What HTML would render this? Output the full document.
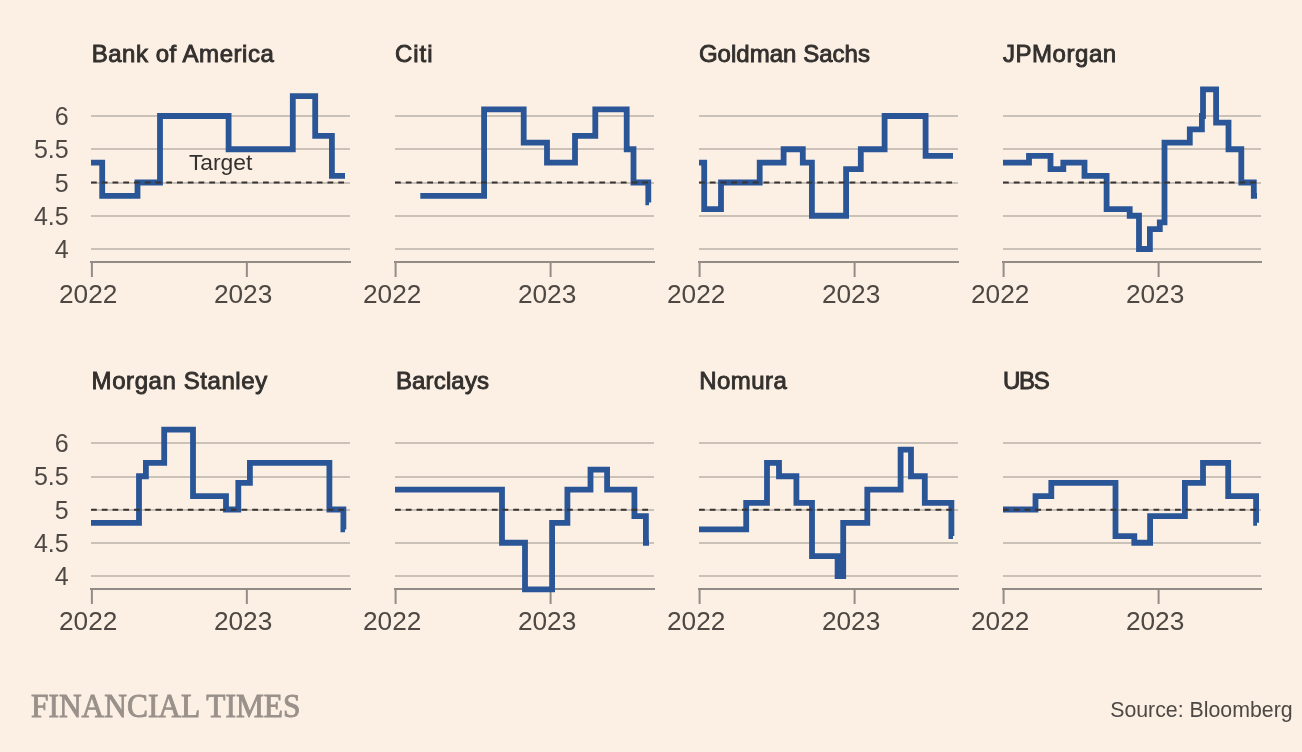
<!DOCTYPE html>
<html><head><meta charset="utf-8"><title>Bank rate forecasts</title>
<style>
html,body{margin:0;padding:0;background:#FCF0E5;}
body{width:1302px;height:752px;overflow:hidden;position:relative;}
svg{position:absolute;left:0;top:0;display:block;will-change:transform;}
.t{font-family:"Liberation Sans",Arial,sans-serif;font-size:24px;fill:#33302E;stroke:#33302E;stroke-width:0.9px;}
.yl{font-family:"Liberation Sans",Arial,sans-serif;font-size:25px;fill:#4D4844;text-anchor:end;}
.xl{font-family:"Liberation Sans",Arial,sans-serif;font-size:25px;fill:#4D4844;}
.gr{fill:#CAC1B8;}
.axr{fill:#938C86;}
.ax{stroke:#938C86;stroke-width:1.8;fill:none;}
.tk{stroke:#938C86;stroke-width:2;fill:none;}
.d{stroke:#383431;stroke-width:2;stroke-dasharray:5.8 4.95;fill:none;}
.ln{stroke:#2A5597;stroke-width:5.8;fill:none;stroke-linejoin:miter;stroke-linecap:butt;}
.tg{font-family:"Liberation Sans",Arial,sans-serif;font-size:22.5px;fill:#33302E;}
.src{font-family:"Liberation Sans",Arial,sans-serif;font-size:21.5px;fill:#4D4844;}
.ft{font-family:"Liberation Serif","Times New Roman",serif;font-size:33px;fill:#99918A;stroke:#99918A;stroke-width:0.9px;}
</style></head><body>
<svg width="1302" height="752" viewBox="0 0 1302 752">
<g><text class="t" x="91.7" y="62" textLength="182.05" lengthAdjust="spacing">Bank of America</text><rect class="gr" x="91" y="115" width="259" height="2"/><rect class="gr" x="91" y="148" width="259" height="2"/><rect class="gr" x="91" y="182" width="259" height="2"/><rect class="gr" x="91" y="215" width="259" height="2"/><rect class="gr" x="91" y="248" width="259" height="2"/><rect class="axr" x="90" y="261" width="261" height="2"/><line class="tk" x1="91.9" x2="91.9" y1="262" y2="277"/><line class="tk" x1="246.85" x2="246.85" y1="262" y2="277"/><text class="xl" x="59" y="303" textLength="58.4" lengthAdjust="spacingAndGlyphs">2022</text><text class="xl" x="213.9" y="303" textLength="58.4" lengthAdjust="spacingAndGlyphs">2023</text><path class="ln" d="M91 162.55H102.2V195.8H137.5V182.5H160V116H228.6V149.25H292.8V96.05H315.2V135.95H331.9V175.85H345"/><line class="d" x1="91" x2="349" y1="182.5" y2="182.5"/><text class="yl" x="68.7" y="125.2">6</text><text class="yl" x="68.7" y="158.45">5.5</text><text class="yl" x="68.7" y="191.7">5</text><text class="yl" x="68.7" y="224.95">4.5</text><text class="yl" x="68.7" y="258.2">4</text></g>
<g><text class="t" x="394.9" y="62" textLength="37.57" lengthAdjust="spacing">Citi</text><rect class="gr" x="395" y="115" width="259" height="2"/><rect class="gr" x="395" y="148" width="259" height="2"/><rect class="gr" x="395" y="182" width="259" height="2"/><rect class="gr" x="395" y="215" width="259" height="2"/><rect class="gr" x="395" y="248" width="259" height="2"/><rect class="axr" x="394" y="261" width="261" height="2"/><line class="tk" x1="395.6" x2="395.6" y1="262" y2="277"/><line class="tk" x1="550.6" x2="550.6" y1="262" y2="277"/><text class="xl" x="363" y="303" textLength="58.4" lengthAdjust="spacingAndGlyphs">2022</text><text class="xl" x="517.9" y="303" textLength="58.4" lengthAdjust="spacingAndGlyphs">2023</text><path class="ln" d="M420.3 195.8H484.1V109.35H523.7V142.6H547V162.55H575V135.95H595.3V109.35H626.7V149.25H633.5V182.5H648.3V202.45H649"/><line class="d" x1="395" x2="653" y1="182.5" y2="182.5"/></g>
<g><text class="t" x="698.9" y="62" textLength="171.07" lengthAdjust="spacing">Goldman Sachs</text><rect class="gr" x="699" y="115" width="259" height="2"/><rect class="gr" x="699" y="148" width="259" height="2"/><rect class="gr" x="699" y="182" width="259" height="2"/><rect class="gr" x="699" y="215" width="259" height="2"/><rect class="gr" x="699" y="248" width="259" height="2"/><rect class="axr" x="698" y="261" width="261" height="2"/><line class="tk" x1="699.6" x2="699.6" y1="262" y2="277"/><line class="tk" x1="854.6" x2="854.6" y1="262" y2="277"/><text class="xl" x="667" y="303" textLength="58.4" lengthAdjust="spacingAndGlyphs">2022</text><text class="xl" x="821.9" y="303" textLength="58.4" lengthAdjust="spacingAndGlyphs">2023</text><path class="ln" d="M699 162.55H704.2V209.1H721V182.5H759.7V162.55H783.6V149.25H802.8V162.55H811.9V215.75H846.1V169.2H860.8V149.25H884.6V116H925.6V155.9H953"/><line class="d" x1="699" x2="957" y1="182.5" y2="182.5"/></g>
<g><text class="t" x="1003" y="62" textLength="113.19" lengthAdjust="spacing">JPMorgan</text><rect class="gr" x="1003" y="115" width="258" height="2"/><rect class="gr" x="1003" y="148" width="258" height="2"/><rect class="gr" x="1003" y="182" width="258" height="2"/><rect class="gr" x="1003" y="215" width="258" height="2"/><rect class="gr" x="1003" y="248" width="258" height="2"/><rect class="axr" x="1002" y="261" width="260" height="2"/><line class="tk" x1="1003.6" x2="1003.6" y1="262" y2="277"/><line class="tk" x1="1158.6" x2="1158.6" y1="262" y2="277"/><text class="xl" x="971" y="303" textLength="58.4" lengthAdjust="spacingAndGlyphs">2022</text><text class="xl" x="1125.9" y="303" textLength="58.4" lengthAdjust="spacingAndGlyphs">2023</text><path class="ln" d="M1003 162.55H1029V155.9H1050.5V169.2H1063.3V162.55H1084.5V175.85H1106.6V209.1H1129.7V215.75H1139V249H1149.9V229.05H1159.8V222.4H1164.5V142.6H1189.8V129.3H1201.9V116H1203V89.4H1216.1V122.65H1228.5V149.25H1241.3V182.5H1253.8V195.8H1257"/><line class="d" x1="1003" x2="1260" y1="182.5" y2="182.5"/></g>
<g><text class="t" x="91.6" y="389" textLength="175.59" lengthAdjust="spacing">Morgan Stanley</text><rect class="gr" x="91" y="442" width="259" height="2"/><rect class="gr" x="91" y="476" width="259" height="2"/><rect class="gr" x="91" y="509" width="259" height="2"/><rect class="gr" x="91" y="542" width="259" height="2"/><rect class="gr" x="91" y="575" width="259" height="2"/><rect class="axr" x="90" y="588" width="261" height="2"/><line class="tk" x1="91.9" x2="91.9" y1="589" y2="604"/><line class="tk" x1="246.85" x2="246.85" y1="589" y2="604"/><text class="xl" x="59" y="630" textLength="58.4" lengthAdjust="spacingAndGlyphs">2022</text><text class="xl" x="213.9" y="630" textLength="58.4" lengthAdjust="spacingAndGlyphs">2023</text><path class="ln" d="M91 522.8H139V476.25H145.9V462.95H164.2V429.7H193V496.2H226V509.5H238.3V482.9H249.9V462.95H329.4V509.5H343.4V529.45H345"/><line class="d" x1="91" x2="349" y1="509.8" y2="509.8"/><text class="yl" x="68.7" y="452.2">6</text><text class="yl" x="68.7" y="485.45">5.5</text><text class="yl" x="68.7" y="518.7">5</text><text class="yl" x="68.7" y="551.95">4.5</text><text class="yl" x="68.7" y="585.2">4</text></g>
<g><text class="t" x="395.9" y="389" textLength="93.13" lengthAdjust="spacing">Barclays</text><rect class="gr" x="395" y="442" width="259" height="2"/><rect class="gr" x="395" y="476" width="259" height="2"/><rect class="gr" x="395" y="509" width="259" height="2"/><rect class="gr" x="395" y="542" width="259" height="2"/><rect class="gr" x="395" y="575" width="259" height="2"/><rect class="axr" x="394" y="588" width="261" height="2"/><line class="tk" x1="395.6" x2="395.6" y1="589" y2="604"/><line class="tk" x1="550.6" x2="550.6" y1="589" y2="604"/><text class="xl" x="363" y="630" textLength="58.4" lengthAdjust="spacingAndGlyphs">2022</text><text class="xl" x="517.9" y="630" textLength="58.4" lengthAdjust="spacingAndGlyphs">2023</text><path class="ln" d="M395 489.55H502V542.75H525V589.3H552.1V522.8H567.4V489.55H590.5V469.6H607.1V489.55H634.4V516.15H645.9V542.75H649"/><line class="d" x1="395" x2="653" y1="509.8" y2="509.8"/></g>
<g><text class="t" x="699.3" y="389" textLength="87.56" lengthAdjust="spacing">Nomura</text><rect class="gr" x="699" y="442" width="259" height="2"/><rect class="gr" x="699" y="476" width="259" height="2"/><rect class="gr" x="699" y="509" width="259" height="2"/><rect class="gr" x="699" y="542" width="259" height="2"/><rect class="gr" x="699" y="575" width="259" height="2"/><rect class="axr" x="698" y="588" width="261" height="2"/><line class="tk" x1="699.6" x2="699.6" y1="589" y2="604"/><line class="tk" x1="854.6" x2="854.6" y1="589" y2="604"/><text class="xl" x="667" y="630" textLength="58.4" lengthAdjust="spacingAndGlyphs">2022</text><text class="xl" x="821.9" y="630" textLength="58.4" lengthAdjust="spacingAndGlyphs">2023</text><path class="ln" d="M699 529.45H746.2V502.85H767V462.95H779V476.25H796.4V502.85H812V556.05H837.6V576H843.2V522.8H867.3V489.55H900.6V449.65H911V476.25H924.8V502.85H951.4V536.1H953"/><line class="d" x1="699" x2="957" y1="509.8" y2="509.8"/></g>
<g><text class="t" x="1002.9" y="389" textLength="46.76" lengthAdjust="spacing">UBS</text><rect class="gr" x="1003" y="442" width="258" height="2"/><rect class="gr" x="1003" y="476" width="258" height="2"/><rect class="gr" x="1003" y="509" width="258" height="2"/><rect class="gr" x="1003" y="542" width="258" height="2"/><rect class="gr" x="1003" y="575" width="258" height="2"/><rect class="axr" x="1002" y="588" width="260" height="2"/><line class="tk" x1="1003.6" x2="1003.6" y1="589" y2="604"/><line class="tk" x1="1158.6" x2="1158.6" y1="589" y2="604"/><text class="xl" x="971" y="630" textLength="58.4" lengthAdjust="spacingAndGlyphs">2022</text><text class="xl" x="1125.9" y="630" textLength="58.4" lengthAdjust="spacingAndGlyphs">2023</text><path class="ln" d="M1003 509.5H1035.5V496.2H1051.3V482.9H1115.5V536.1H1134.3V542.75H1150.1V516.15H1184.9V482.9H1203V462.95H1228.2V496.2H1256.1V522.8H1257"/><line class="d" x1="1003" x2="1260" y1="509.8" y2="509.8"/></g>
<text class="tg" x="188.9" y="170" textLength="63.5" lengthAdjust="spacingAndGlyphs">Target</text>
<text class="ft" x="31.05" y="716.7" textLength="269.4" lengthAdjust="spacingAndGlyphs">FINANCIAL TIMES</text>
<text class="src" x="1110.2" y="716.7" textLength="182.4" lengthAdjust="spacingAndGlyphs">Source: Bloomberg</text>
</svg></body></html>
